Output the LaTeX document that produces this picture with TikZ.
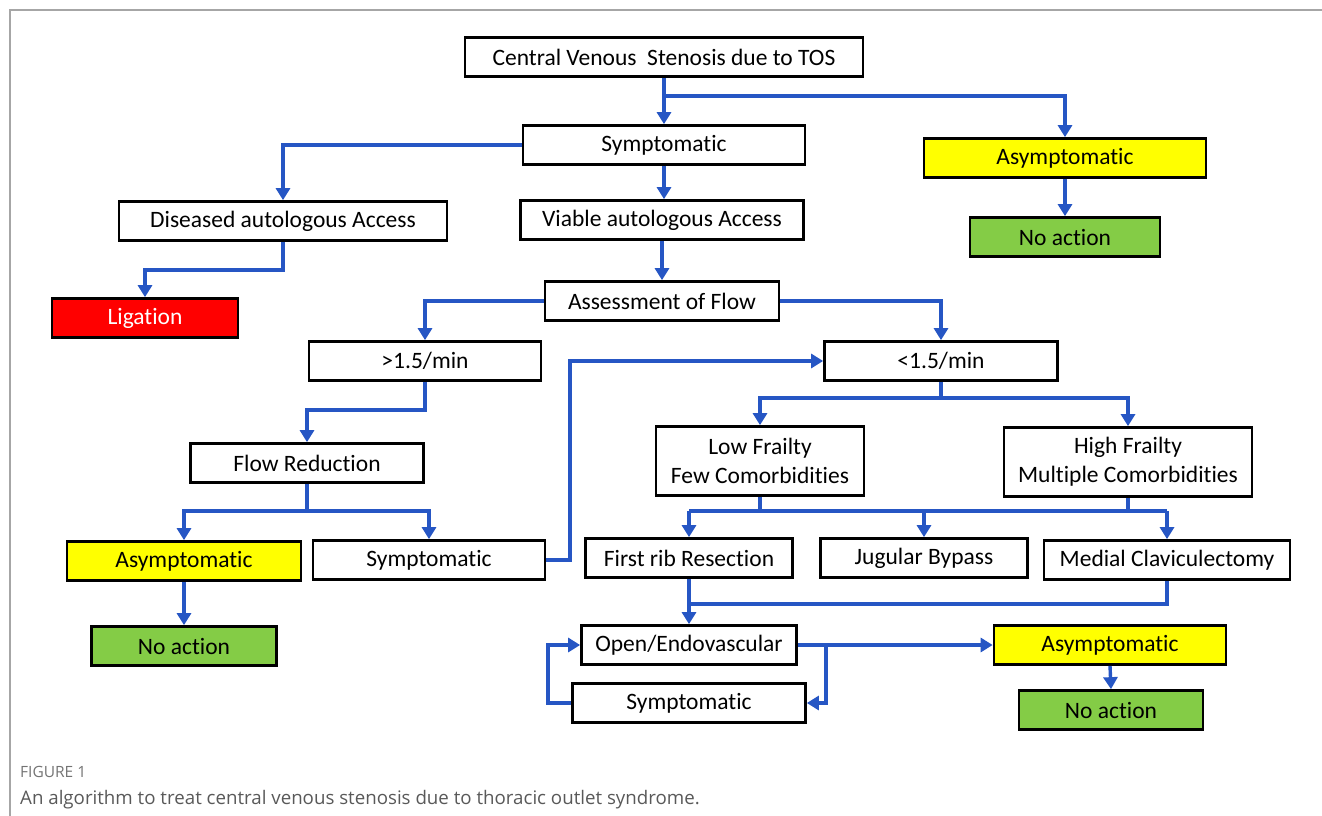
\documentclass[tikz,border=0pt]{standalone}
\usepackage{fontspec}
\setmainfont[Ligatures=NoCommon]{Carlito}
\newfontfamily\capfont{Open Sans}
\usetikzlibrary{arrows.meta}
\definecolor{flowblue}{RGB}{38,86,196}
\definecolor{boxyellow}{RGB}{255,255,0}
\definecolor{boxgreen}{RGB}{132,204,70}
\definecolor{boxred}{RGB}{255,0,0}

\begin{document}
\begin{tikzpicture}[x=1pt, y=-1pt,
  box/.style={draw, line width=2.7pt, fill=white, minimum height=39pt,
    inner sep=0pt, align=center, font=\fontsize{23.5}{29}\selectfont},
  yes/.style={box, fill=boxyellow},
  none/.style={box, fill=boxgreen},
  stop/.style={box, fill=boxred, text=white},
  link/.style={draw=flowblue, line width=3.4pt},
  flow/.style={link, -{Triangle[width=14pt,length=12pt]}}]
  \useasboundingbox (0,0) rectangle (1322,816);
  % page frame
  \draw[gray!70, line width=1.2pt] (1322,10) -- (10,10) -- (10,816);

  % top of the tree
  \node[box, minimum width=398pt] (cvs) at (664,57) {Central Venous\ \ Stenosis due to TOS};
  \node[box, minimum width=282pt] (sym) at (664,145) {Symptomatic};
  \node[yes, minimum width=282pt] (asym) at (1065,158) {Asymptomatic};
  \node[none, minimum width=190pt] (noact) at (1065,237) {No action};
  \node[box, minimum width=328pt] (dis) at (283,221) {Diseased autologous Access};
  \node[box, minimum width=283pt] (via) at (662,220) {Viable autologous Access};
  \node[stop, minimum width=186pt] (lig) at (145,318) {Ligation};
  \node[box, minimum width=234pt] (flow) at (662,301) {Assessment of Flow};
  \node[box, minimum width=232pt] (high) at (425,361) {>1.5/min};
  \node[box, minimum width=233pt] (low) at (941,361) {<1.5/min};

  % high flow branch
  \node[box, minimum width=233pt] (red) at (307,463) {Flow Reduction};
  \node[yes, minimum width=234pt] (rasym) at (184,561) {Asymptomatic};
  \node[box, minimum width=232pt] (rsym) at (429,560) {Symptomatic};
  \node[none, minimum width=185pt] (rnoact) at (184,646) {No action};

  % low flow branch
  \node[box, minimum width=208pt, minimum height=69pt] (lowfr) at (760,461) {Low Frailty\\Few Comorbidities};
  \node[box, minimum width=248pt, minimum height=69pt] (highfr) at (1128,462) {High Frailty\\Multiple Comorbidities};
  \node[box, minimum width=207pt] (rib) at (689,558) {First rib Resection};
  \node[box, minimum width=207pt] (jug) at (924,558) {Jugular Bypass};
  \node[box, minimum width=246pt] (med) at (1167,560) {Medial Claviculectomy};
  \node[box, minimum width=215pt] (open) at (689,645) {Open/Endovascular};
  \node[box, minimum width=233pt] (osym) at (689,703) {Symptomatic};
  \node[yes, minimum width=232pt] (oasym) at (1110,645) {Asymptomatic};
  \node[none, minimum width=184pt] (onoact) at (1111,710) {No action};

  % junctions
  \coordinate (j1) at (664,96);
  \coordinate (j2) at (283,270);
  \coordinate (j3) at (425,410);
  \coordinate (j4) at (307,511);
  \coordinate (j5) at (570,560);
  \coordinate (j6) at (941,398);
  \coordinate (j7) at (689,511);
  \coordinate (j8) at (1167,511);
  \coordinate (j9) at (689,604);
  \coordinate (j10) at (826,645);
  \coordinate (j11) at (548,703);

  % connectors
  \draw[flow] (cvs.south) -- (sym.north);
  \draw[flow] (j1) -| (asym.north);
  \draw[flow] (asym.south) -- (noact.north);
  \draw[flow] (sym.west) -| (dis.north);
  \draw[flow] (sym.south) -- (sym.south |- via.north);
  \draw[flow] (dis.south) -- (j2) -| (lig.north);
  \draw[flow] (via.south) -- (flow.north);
  \draw[flow] (flow.west) -| (high.north);
  \draw[flow] (flow.east) -| (low.north);
  \draw[flow] (high.south) -- (j3) -| (red.north);
  \draw[link] (red.south) -- (j4);
  \draw[flow] (j4) -| (rasym.north);
  \draw[flow] (j4) -| (rsym.north);
  \draw[flow] (rasym.south) -- (rnoact.north);
  \draw[flow] (rsym.east) -- (j5) |- (low.west);
  \draw[link] (low.south) -- (j6);
  \draw[flow] (j6) -| (lowfr.north);
  \draw[flow] (j6) -| (highfr.north);
  \draw[link] (lowfr.south) -- (lowfr.south |- j7);
  \draw[link] (highfr.south) -- (highfr.south |- j7);
  \draw[link] (j7) -- (j8);
  \draw[flow] (j7) -- (rib.north);
  \draw[flow] (jug.north |- j7) -- (jug.north);
  \draw[flow] (j8) -- (med.north);
  \draw[flow] (rib.south) -- (open.north);
  \draw[link] (med.south) |- (j9);
  \draw[flow] (open.east) -- (oasym.west);
  \draw[flow] (open.east) -- (j10) |- (osym.east);
  \draw[flow] (osym.west) -- (j11) |- (open.west);
  \draw[flow] (oasym.south) -- (onoact.north);

  % caption
  \node[anchor=base west, inner sep=0pt, text=black!55, font=\capfont\fontsize{15.5}{18}\selectfont] (figno) at (20,777) {FIGURE 1};
  \node[anchor=base west, inner sep=0pt, text=black!65, font=\capfont\fontsize{18.7}{22}\selectfont] (figtext) at (20,804) {An algorithm to treat central venous stenosis due to thoracic outlet syndrome.};
\end{tikzpicture}
\end{document}
